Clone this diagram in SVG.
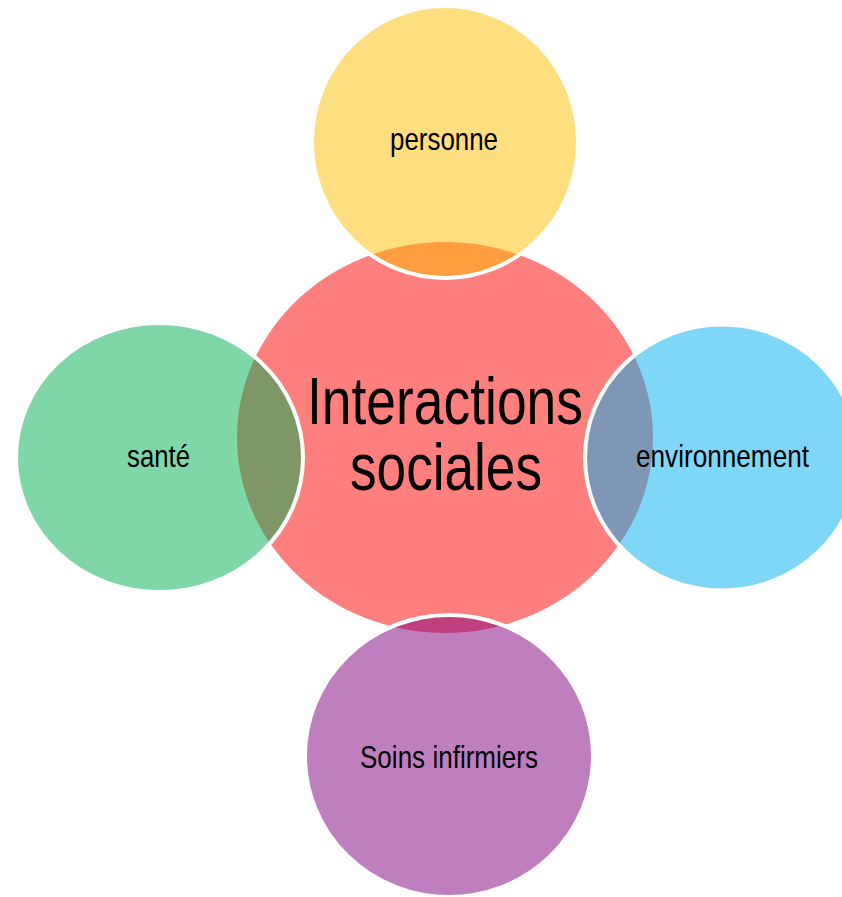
<svg xmlns="http://www.w3.org/2000/svg" width="842" height="897" viewBox="0 0 842 897">
  <style>
    .hub { fill: #ff0000; fill-opacity: 0.5; stroke: none; }
    .sat { fill-opacity: 0.5; stroke: #ffffff; stroke-width: 4; stroke-opacity: 1; }
    .lbl { font-family: "Liberation Sans Narrow", "Liberation Sans", Arial, sans-serif; fill: #000000; text-anchor: middle; }
    .small { font-size: 32px; }
    .big { font-size: 66px; }
  </style>
  <rect x="0" y="0" width="842" height="897" fill="#ffffff"/>

  <!-- central circle -->
  <g id="interactions-sociales">
    <ellipse class="hub" cx="445" cy="437.5" rx="208" ry="195.5"/>
    <text class="lbl big" x="445" y="424" textLength="276" lengthAdjust="spacingAndGlyphs">Interactions</text>
    <text class="lbl big" x="446" y="490" textLength="192" lengthAdjust="spacingAndGlyphs">sociales</text>
  </g>

  <!-- surrounding circles, half-transparent so the overlaps blend -->
  <g id="personne">
    <ellipse class="sat" cx="445" cy="142" rx="133" ry="136" fill="#ffbd00"/>
    <text class="lbl small" x="444" y="150" textLength="108" lengthAdjust="spacingAndGlyphs">personne</text>
  </g>

  <g id="sante">
    <ellipse class="sat" cx="159.5" cy="457.5" rx="143.5" ry="134.5" fill="#00b050"/>
    <text class="lbl small" x="158.5" y="467" textLength="63" lengthAdjust="spacingAndGlyphs">santé</text>
  </g>

  <g id="environnement">
    <ellipse class="sat" cx="722" cy="457.5" rx="137" ry="133" fill="#00b0f0"/>
    <text class="lbl small" x="722.5" y="467" textLength="173" lengthAdjust="spacingAndGlyphs">environnement</text>
  </g>

  <g id="soins-infirmiers">
    <ellipse class="sat" cx="449" cy="756" rx="144" ry="141" fill="#800080"/>
    <text class="lbl small" x="449" y="768" textLength="178" lengthAdjust="spacingAndGlyphs">Soins infirmiers</text>
  </g>
</svg>
